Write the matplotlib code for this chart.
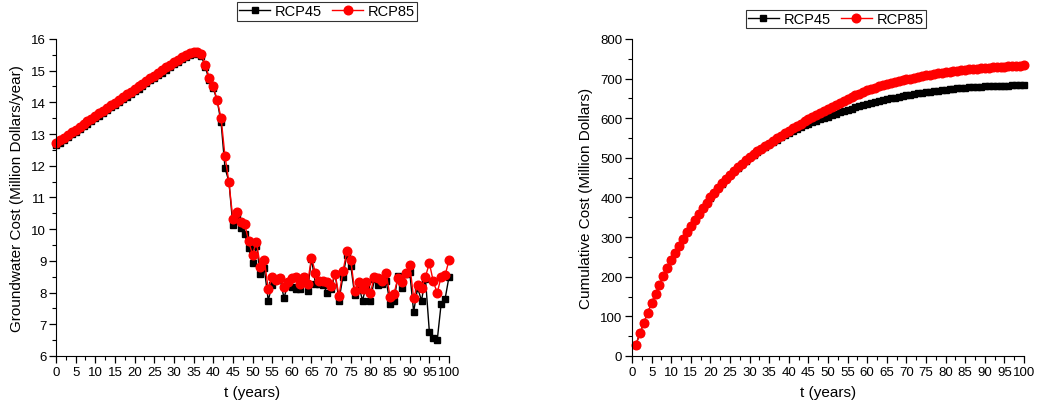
import numpy as np
import matplotlib
matplotlib.use("Agg")
import matplotlib.pyplot as plt
from matplotlib.ticker import MultipleLocator

plt.rcParams["font.family"] = ["Liberation Sans", "DejaVu Sans"]

# annual groundwater cost, t = 0..100 (million dollars / year)
years = np.arange(0, 101)
gw_rcp45 = [
    12.65, 12.73, 12.82, 12.90, 12.99, 13.07, 13.16, 13.24, 13.33, 13.41,
    13.50, 13.58, 13.67, 13.75, 13.84, 13.92, 14.01, 14.09, 14.18, 14.26,
    14.35, 14.43, 14.52, 14.60, 14.69, 14.77, 14.86, 14.94, 15.03, 15.11,
    15.20, 15.28, 15.36, 15.44, 15.50, 15.54, 15.52, 15.46,
    15.11, 14.69, 14.45, 14.06, 13.37, 11.93, 11.50, 10.12, 10.38, 10.03,
    9.85, 9.40, 8.93, 9.47, 8.60, 8.77,
    7.75, 8.25, 8.40, 8.45, 7.83, 8.25, 8.17, 8.12, 8.10, 8.50,
    8.05, 9.07, 8.28, 8.28, 8.23, 8.00, 8.10, 8.60, 7.75, 8.50,
    9.20, 8.85, 7.93, 8.23, 7.75, 8.25, 7.75, 8.42, 8.25, 8.28,
    8.38, 7.65, 7.75, 8.52, 8.15, 8.60, 8.65, 7.39, 8.15, 7.75,
    8.44, 6.76, 6.57, 6.50, 7.65, 7.80, 8.50,
]
gw_rcp85 = [
    12.72, 12.80, 12.89, 12.97, 13.06, 13.14, 13.23, 13.31, 13.40, 13.48,
    13.57, 13.65, 13.74, 13.82, 13.91, 13.99, 14.08, 14.16, 14.25, 14.33,
    14.42, 14.50, 14.59, 14.67, 14.76, 14.84, 14.93, 15.01, 15.10, 15.18,
    15.27, 15.35, 15.43, 15.50, 15.56, 15.60, 15.58, 15.52,
    15.19, 14.77, 14.53, 14.06, 13.51, 12.30, 11.48, 10.33, 10.54, 10.22,
    10.17, 9.62, 9.20, 9.61, 8.80, 9.04,
    8.10, 8.50, 8.40, 8.45, 8.17, 8.33, 8.45, 8.50, 8.28, 8.50,
    8.28, 9.10, 8.63, 8.35, 8.38, 8.33, 8.20, 8.60, 7.90, 8.67,
    9.30, 9.03, 8.04, 8.33, 8.10, 8.33, 8.00, 8.50, 8.45, 8.35,
    8.63, 7.86, 7.97, 8.45, 8.33, 8.63, 8.88, 7.83, 8.25, 8.15,
    8.50, 8.93, 8.35, 7.99, 8.50, 8.55, 9.02,
]

# cumulative cost, t = 1..100 (million dollars)
cum_years = np.arange(1, 101)
cum_rcp45 = [
    29, 57, 84, 109, 134, 157, 180, 202, 222, 241,
    260, 278, 296, 313, 329, 344, 359, 373, 386, 399,
    411, 423, 435, 446, 456, 466, 475, 484, 493, 501,
    508, 515, 522, 528, 534, 540, 546, 552, 558, 563,
    568, 573, 577, 582, 586, 590, 594, 597, 601, 604,
    608, 611, 615, 618, 621, 624, 627, 630, 633, 636,
    638.5, 641, 643.5, 646, 648, 650, 652, 654, 656, 658,
    659.6, 661.2, 662.8, 664.4, 666, 667.2, 668.4, 669.6, 670.8, 672,
    673, 674, 675, 676, 677, 677.6, 678.2, 678.8, 679.4, 680,
    680.4, 680.8, 681.2, 681.6, 682, 682.4, 682.8, 683.2, 683.6, 684,
]
cum_rcp85 = [
    29, 57, 84, 109, 134, 157, 180, 202, 222, 241,
    260, 278, 296, 313, 329, 344, 359, 373, 387, 400,
    412, 424, 436, 447, 457, 467, 476, 485, 494, 502,
    509, 516, 523, 530, 536, 543, 549, 556, 562, 568,
    574, 580, 586, 592, 597, 603, 608, 613, 619, 624,
    629, 634, 639, 644, 649, 653, 658, 662, 666, 670,
    673, 677, 680, 683, 686, 688, 691, 693, 696, 698,
    700, 702, 704, 706, 708, 710, 711, 713, 715, 716,
    717, 719, 720, 721, 722, 723, 724, 725, 726, 727,
    727.6, 728.2, 728.8, 729.4, 730, 730.6, 731.2, 731.8, 732.4, 733,
]


def style_axes(ax, ymajor, yminor):
    ax.spines["top"].set_visible(False)
    ax.spines["right"].set_visible(False)
    ax.xaxis.set_major_locator(MultipleLocator(5))
    ax.xaxis.set_minor_locator(MultipleLocator(2.5))
    ax.yaxis.set_major_locator(MultipleLocator(ymajor))
    ax.yaxis.set_minor_locator(MultipleLocator(yminor))
    ax.tick_params(which="major", direction="out", length=5, width=0.9, labelsize=9.5, pad=2)
    ax.tick_params(which="minor", direction="out", length=3, width=0.8)
    ax.set_xlabel("t (years)", fontsize=11, labelpad=5)


def draw(ax, x, y45, y85):
    ax.plot(x, y45, color="black", marker="s", markersize=5.0, lw=1.0,
            label="RCP45", clip_on=False)
    ax.plot(x, y85, color="red", marker="o", markersize=6.2, lw=1.0,
            label="RCP85", clip_on=False)


def add_legend(ax, anchor):
    leg = ax.legend(loc="center", bbox_to_anchor=anchor, ncol=2, fontsize=10.5,
                    frameon=True, fancybox=False, edgecolor="black", handlelength=2.1,
                    columnspacing=0.7, handletextpad=0.35, borderpad=0.15, borderaxespad=0)
    leg.get_frame().set_linewidth(0.8)


fig = plt.figure(figsize=(10.37, 4.06), dpi=100)

ax1 = fig.add_axes([0.054, 0.1207, 0.379, 0.781])
draw(ax1, years, gw_rcp45, gw_rcp85)
ax1.set_xlim(0, 100)
ax1.set_ylim(6, 16)
style_axes(ax1, 1, 0.5)
ax1.set_ylabel("Groundwater Cost (Million Dollars/year)", fontsize=11, labelpad=5)
add_legend(ax1, (0.69, 1.087))

ax2 = fig.add_axes([0.6095, 0.1207, 0.378, 0.781])
draw(ax2, cum_years, cum_rcp45, cum_rcp85)
ax2.set_xlim(0, 100)
ax2.set_ylim(0, 800)
style_axes(ax2, 100, 50)
ax2.set_ylabel("Cumulative Cost (Million Dollars)", fontsize=11, labelpad=5)
add_legend(ax2, (0.52, 1.062))

fig.savefig("out.png", dpi=100)
